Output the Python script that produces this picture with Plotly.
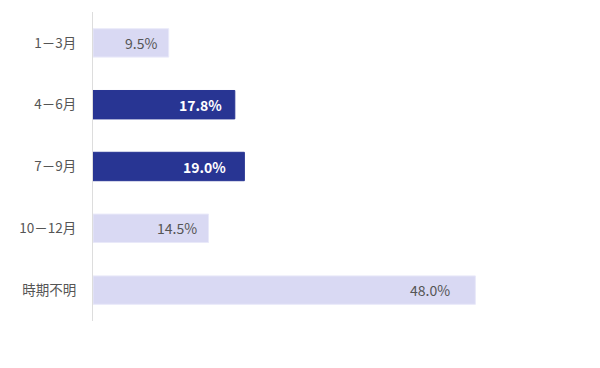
import plotly.graph_objects as go

categories = ["1－3月", "4－6月", "7－9月", "10－12月", "時期不明"]
values = [9.5, 17.8, 19.0, 14.5, 48.0]
highlight = [False, True, True, False, False]

DARK = "#283593"
LIGHT = "#d9d9f3"
FONT = "Noto Sans CJK JP"

colors = [DARK if h else LIGHT for h in highlight]
line_colors = [DARK if h else "#e9e9f9" for h in highlight]
label_pad = [10, 11, 16, 10, 23]  # style: px gap between label and bar end

fig = go.Figure(go.Bar(
    y=categories, x=values, orientation="h",
    marker=dict(color=colors, line=dict(color=line_colors, width=1)),
    width=0.46, hoverinfo="skip",
))

for c, v, h, p in zip(categories, values, highlight, label_pad):
    fig.add_annotation(
        x=v, y=c, text=f"{v:.1f}%", showarrow=False,
        xanchor="right", xshift=-p,
        font=dict(family=FONT, size=14, color="#ffffff" if h else "#555555",
                  weight="bold" if h else "normal"),
    )

# page body adds an 8px offset, margins compensate for it
fig.update_layout(
    width=600, height=368,
    margin=dict(l=85, r=37, t=3.5, b=54.5, autoexpand=False),
    paper_bgcolor="white", plot_bgcolor="white",
    showlegend=False,
    xaxis=dict(range=[0, 60], showgrid=False, zeroline=False, showticklabels=False,
               showline=False, fixedrange=True, automargin=False),
    yaxis=dict(autorange="reversed", showgrid=False, zeroline=False,
               showline=True, linecolor="#dddddd", linewidth=1,
               ticks="", ticklabelstandoff=13, automargin=False,
               tickfont=dict(family=FONT, size=13.5, color="#555555"),
               fixedrange=True),
    font=dict(family=FONT),
)

fig.write_html("out.html")
